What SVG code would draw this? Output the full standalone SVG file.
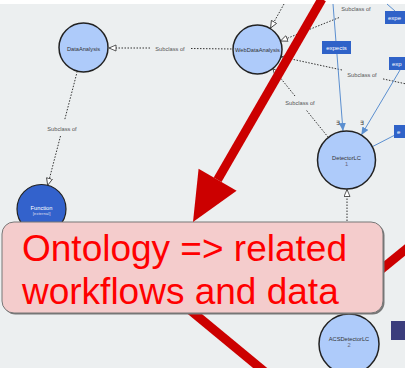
<svg xmlns="http://www.w3.org/2000/svg" width="405" height="368" viewBox="0 0 405 368">
<style>
.dot{fill:none;stroke:#333;stroke-width:1;stroke-dasharray:1.5 1.5}
.blue{fill:none;stroke:#5b8fd0;stroke-width:1}
.lbl{font-family:"Liberation Sans",Arial,sans-serif;font-size:5.7px;fill:#555;text-anchor:middle}
.nl{font-family:"Liberation Sans",Arial,sans-serif;font-size:5.7px;fill:#333;text-anchor:middle}
.ex{font-family:"Liberation Sans",Arial,sans-serif;font-size:6px;fill:#fff}
.node{fill:#aecbfa;stroke:#222;stroke-width:1.5}
.box{fill:#2f62c8}
.red{stroke:#cc0000;stroke-width:9;fill:none}
.big{font-family:"Liberation Sans",Arial,sans-serif;font-size:37px;fill:#ff0000}
</style>
<defs>
<marker id="hol" markerUnits="userSpaceOnUse" markerWidth="9" markerHeight="8" refX="7.5" refY="3.5" orient="auto">
<path d="M0.5,0.5 L7.5,3.5 L0.5,6.5 z" fill="#fff" stroke="#333" stroke-width="0.8"/>
</marker>
<marker id="fil" markerUnits="userSpaceOnUse" markerWidth="9" markerHeight="8" refX="8" refY="3.5" orient="auto">
<path d="M0,0 L8,3.5 L0,7 z" fill="#5b8fd0"/>
</marker>
</defs>
<rect x="0" y="0" width="405" height="368" fill="#fff"/>
<rect x="0" y="4" width="405" height="364" fill="#eceff0"/>

<g id="connectors">
<path class="dot" d="M191,48.5 L233,49"/>
<path class="dot" d="M150,48 L109,48" marker-end="url(#hol)"/>
<text class="lbl" x="170" y="50.5">Subclass of</text>
<path class="dot" d="M77.3,71.2 L64.5,120.5"/>
<path class="dot" d="M60.5,136 L47.7,185.3" marker-end="url(#hol)"/>
<text class="lbl" x="62" y="130.5">Subclass of</text>
<path class="dot" d="M284,4 L270.6,28" marker-end="url(#hol)"/>
<path class="dot" d="M339,17.6 L280.5,41" marker-end="url(#hol)"/>
<text class="lbl" x="356" y="11">Subclass of</text>
<path class="dot" d="M405,83.7 L382,78.7"/>
<path class="dot" d="M342,70 L281,56.8" marker-end="url(#hol)"/>
<text class="lbl" x="362" y="77">Subclass of</text>
<path class="dot" d="M328.3,137.4 L306.2,110"/>
<path class="dot" d="M295,96 L272.9,68.6" marker-end="url(#hol)"/>
<text class="lbl" x="300" y="105">Subclass of</text>
<path class="dot" d="M347,230 L347,189.5" marker-end="url(#hol)"/>
<path class="blue" d="M333,4 L343,131" marker-end="url(#fil)"/>
<path class="blue" d="M400,70 L361.3,135.1" marker-end="url(#fil)"/>
<path class="blue" d="M372.3,146.7 L395,135"/>
<path class="blue" d="M387,4 L395,11"/>
<text class="nl" x="338" y="125">∃</text>
<text class="nl" x="362" y="125">∃</text>
<rect class="box" x="322" y="41" width="29" height="13"/>
<text class="ex" x="336.5" y="49.8" text-anchor="middle">expects</text>
<rect class="box" x="385" y="11" width="22" height="13"/>
<text class="ex" x="388" y="19.8">expe</text>
<rect class="box" x="389" y="57" width="18" height="13"/>
<text class="ex" x="392" y="65.8">exp</text>
<rect class="box" x="394" y="125" width="13" height="13"/>
<text class="ex" x="397" y="133.8">e</text>
</g>

<g id="DataAnalysis">
<circle class="node" cx="83.5" cy="47.5" r="24.5"/>
<text class="nl" x="83.5" y="51">DataAnalysis</text>
</g>
<g id="WebDataAnalysis">
<circle class="node" cx="257.5" cy="49.5" r="24.5"/>
<text class="nl" x="257.5" y="52">WebDataAnalysis</text>
</g>
<g id="Function">
<circle cx="41.5" cy="209" r="24.5" fill="#3362cc" stroke="#222" stroke-width="1.2"/>
<text class="nl" x="41.5" y="209.5" style="fill:#fff">Function</text>
<text class="nl" x="41.5" y="214.5" style="fill:#dde;font-size:4.3px">[external]</text>
</g>
<g id="DetectorLC">
<circle class="node" cx="346.5" cy="160" r="29"/>
<text class="nl" x="346.5" y="159.7">DetectorLC</text>
<text class="nl" x="346.5" y="165.5" style="fill:#667">1</text>
</g>
<g id="ACSDetectorLC">
<circle class="node" cx="349" cy="344" r="30"/>
<text class="nl" x="349" y="341">ACSDetectorLC</text>
<text class="nl" x="349" y="347" style="fill:#667">2</text>
</g>
<rect x="391" y="321" width="14" height="19" fill="#3b3d7c"/>

<g id="callout">
<path class="red" d="M190,310 L265,372"/>
<path class="red" d="M378,272 L410,246"/>
<rect x="3.5" y="223.5" width="381" height="91" rx="12" fill="#777"/>
<rect x="2" y="222" width="381" height="91" rx="12" fill="#f4cccc" stroke="#777" stroke-width="1"/>
<text class="big" x="22" y="261">Ontology =&gt; related</text>
<text class="big" x="22" y="304">workflows and data</text>
</g>
<g id="redarrow">
<path class="red" d="M322,-1 L217.6,179.7"/>
<polygon points="193,222 236.6,190.7 198.6,168.7" fill="#cc0000"/>
</g>
</svg>
